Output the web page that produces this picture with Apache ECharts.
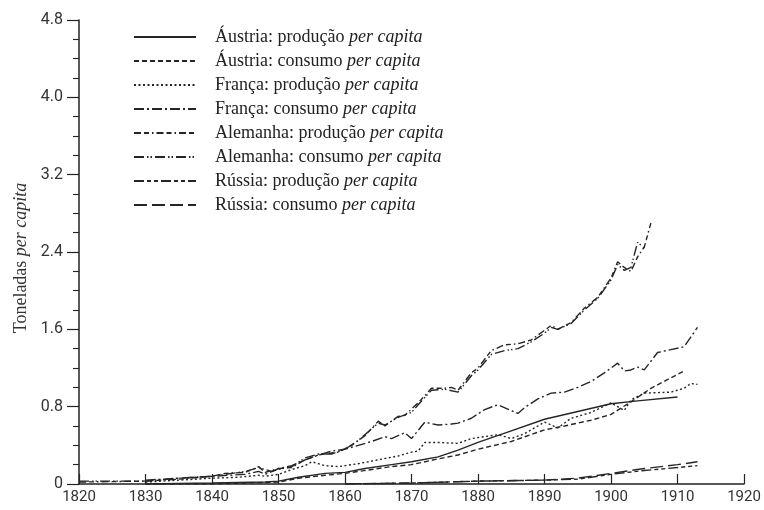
<!DOCTYPE html>
<html>
<head>
<meta charset="utf-8">
<script src="https://cdn.jsdelivr.net/npm/echarts/dist/echarts.min.js"></script>
<style>
  html, body { margin: 0; padding: 0; background: #fff; }
  #main { width: 764px; height: 510px; }
</style>
</head>
<body>
<div id="main"></div>
<script>
// toneladas per capita, pares [ano, valor]
var austriaProducao = [[1830,0.0],[1840,0.01],[1848,0.02],[1850,0.03],[1853,0.07],[1857,0.11],[1860,0.12],[1863,0.16],[1867,0.2],[1870,0.23],[1874,0.28],[1877,0.35],[1880,0.43],[1885,0.55],[1890,0.67],[1895,0.75],[1900,0.83],[1904,0.86],[1910,0.9]];
var austriaConsumo = [[1830,0.0],[1840,0.0],[1850,0.02],[1853,0.06],[1857,0.09],[1860,0.11],[1867,0.18],[1870,0.2],[1874,0.26],[1877,0.3],[1880,0.36],[1885,0.44],[1890,0.56],[1893,0.6],[1897,0.66],[1900,0.72],[1903,0.85],[1906,0.99],[1911,1.17]];
var francaProducao = [[1830,0.02],[1835,0.04],[1840,0.06],[1844,0.07],[1847,0.09],[1848,0.08],[1850,0.1],[1852,0.15],[1854,0.19],[1855,0.23],[1857,0.19],[1859,0.18],[1862,0.21],[1865,0.25],[1868,0.29],[1870,0.33],[1871,0.34],[1872,0.43],[1874,0.43],[1877,0.42],[1879,0.47],[1881,0.49],[1883,0.51],[1885,0.47],[1887,0.52],[1889,0.6],[1890,0.64],[1892,0.58],[1894,0.68],[1897,0.74],[1900,0.84],[1901,0.8],[1902,0.76],[1903,0.87],[1905,0.94],[1909,0.95],[1911,0.99],[1912,1.04],[1913,1.03]];
var francaConsumo = [[1830,0.04],[1835,0.06],[1840,0.08],[1845,0.1],[1847,0.13],[1848,0.1],[1850,0.16],[1852,0.19],[1854,0.25],[1856,0.3],[1858,0.34],[1860,0.36],[1862,0.4],[1864,0.44],[1866,0.49],[1867,0.47],[1869,0.53],[1870,0.47],[1872,0.64],[1874,0.61],[1876,0.62],[1877,0.63],[1879,0.68],[1881,0.77],[1883,0.82],[1886,0.73],[1887,0.79],[1889,0.88],[1891,0.94],[1893,0.95],[1895,1.0],[1897,1.06],[1899,1.15],[1901,1.25],[1902,1.17],[1903,1.18],[1904,1.21],[1905,1.18],[1907,1.36],[1909,1.39],[1911,1.42],[1912,1.52],[1913,1.62]];
var alemanhaProducao = [[1820,0.02],[1830,0.03],[1835,0.05],[1840,0.08],[1842,0.11],[1845,0.12],[1847,0.18],[1848,0.12],[1850,0.16],[1852,0.17],[1854,0.25],[1856,0.3],[1858,0.32],[1859,0.33],[1861,0.4],[1863,0.5],[1865,0.65],[1866,0.6],[1868,0.7],[1869,0.71],[1871,0.84],[1873,0.99],[1875,0.99],[1876,1.0],[1877,0.97],[1879,1.15],[1880,1.2],[1882,1.38],[1884,1.44],[1886,1.45],[1888,1.49],[1889,1.54],[1891,1.64],[1892,1.6],[1894,1.67],[1896,1.82],[1898,1.93],[1900,2.13],[1901,2.3],[1902,2.24],[1903,2.2],[1904,2.35],[1905,2.45],[1906,2.7]];
var alemanhaConsumo = [[1820,0.03],[1830,0.03],[1835,0.06],[1840,0.08],[1842,0.1],[1845,0.13],[1847,0.17],[1849,0.13],[1850,0.15],[1852,0.18],[1854,0.27],[1856,0.31],[1858,0.31],[1860,0.36],[1862,0.45],[1864,0.57],[1865,0.63],[1866,0.61],[1868,0.69],[1870,0.74],[1871,0.82],[1873,0.97],[1875,0.98],[1877,0.95],[1879,1.12],[1880,1.18],[1882,1.34],[1884,1.38],[1886,1.4],[1888,1.47],[1890,1.56],[1891,1.62],[1892,1.6],[1894,1.66],[1896,1.8],[1898,1.92],[1900,2.11],[1901,2.27],[1902,2.21],[1903,2.24],[1904,2.5],[1905,2.44]];
var russiaProducao = [[1860,0.0],[1870,0.01],[1880,0.03],[1890,0.04],[1895,0.05],[1900,0.1],[1905,0.14],[1910,0.17],[1913,0.19]];
var russiaConsumo = [[1860,0.0],[1870,0.01],[1880,0.03],[1890,0.04],[1895,0.06],[1900,0.11],[1905,0.16],[1910,0.2],[1913,0.23]];

var nomes = [
  'Áustria: produção per capita',
  'Áustria: consumo per capita',
  'França: produção per capita',
  'França: consumo per capita',
  'Alemanha: produção per capita',
  'Alemanha: consumo per capita',
  'Rússia: produção per capita',
  'Rússia: consumo per capita'
];
var dados = [austriaProducao, austriaConsumo, francaProducao, francaConsumo,
             alemanhaProducao, alemanhaConsumo, russiaProducao, russiaConsumo];
var tracos = ['solid', [5,3], [2,2.5], [10,3,2,3], [7,3,5,3,1.5,3], [10,3,1.5,2,1.5,3], [10,3,4,3,4,3], [13,5]];

var corLinha = '#262626';
var serif = 'Liberation Serif';

var chartDom = document.getElementById('main');
var myChart = echarts.init(chartDom);

var series = nomes.map(function(n, i){
  return {
    name: n,
    type: 'line',
    data: dados[i],
    symbol: 'none',
    lineStyle: { color: corLinha, width: 1.4, type: tracos[i] },
    itemStyle: { color: corLinha }
  };
});

var option = {
  animation: false,
  backgroundColor: '#fff',
  grid: { left: 79, right: 20, top: 20, bottom: 26 },
  legend: {
    orient: 'vertical',
    left: 128,
    top: 23,
    itemWidth: 62,
    itemHeight: 14,
    itemGap: 6,
    itemStyle: { opacity: 0 },
    formatter: function(name){
      var p = name.split(' per capita');
      return '{s|}{n|' + p[0] + ' }{i|per capita}';
    },
    textStyle: {
      rich: {
        s: { width: 14 },
        n: { fontFamily: serif, fontSize: 18, color: '#222', lineHeight: 20 },
        i: { fontFamily: serif, fontSize: 18, color: '#222', fontStyle: 'italic', lineHeight: 20 }
      }
    },
    selectedMode: false
  },
  xAxis: {
    type: 'value',
    min: 1820,
    max: 1920,
    interval: 10,
    axisLine: { lineStyle: { color: '#222', width: 1.5 } },
    axisTick: { inside: true, length: 10, lineStyle: { color: '#222', width: 1.2 } },
    axisLabel: {
      color: '#333', fontFamily: 'Roboto', fontSize: 15, margin: 6,
      formatter: function(v){ return String(v); }
    },
    splitLine: { show: false }
  },
  yAxis: {
    type: 'value',
    min: 0,
    max: 4.8,
    interval: 0.8,
    name: '{n|Toneladas }{i|per capita}',
    nameLocation: 'middle',
    nameGap: 40,
    nameTextStyle: {
      padding: [0, 12, 0, 0],
      rich: {
        n: { fontFamily: serif, fontSize: 18, color: '#333' },
        i: { fontFamily: serif, fontSize: 18, color: '#333', fontStyle: 'italic' }
      }
    },
    axisLine: { show: true, lineStyle: { color: '#222', width: 1.5 } },
    axisTick: { length: 12, lineStyle: { color: '#222', width: 1.2 } },
    minorTick: { show: true, splitNumber: 4, length: 6, lineStyle: { color: '#222', width: 1.1 } },
    axisLabel: {
      color: '#333', fontFamily: 'Roboto', fontSize: 16, margin: 16,
      formatter: function(v){ return v === 0 ? '0' : v.toFixed(1); }
    },
    splitLine: { show: false },
    minorSplitLine: { show: false }
  },
  series: series
};
myChart.setOption(option);
</script>
</body>
</html>
